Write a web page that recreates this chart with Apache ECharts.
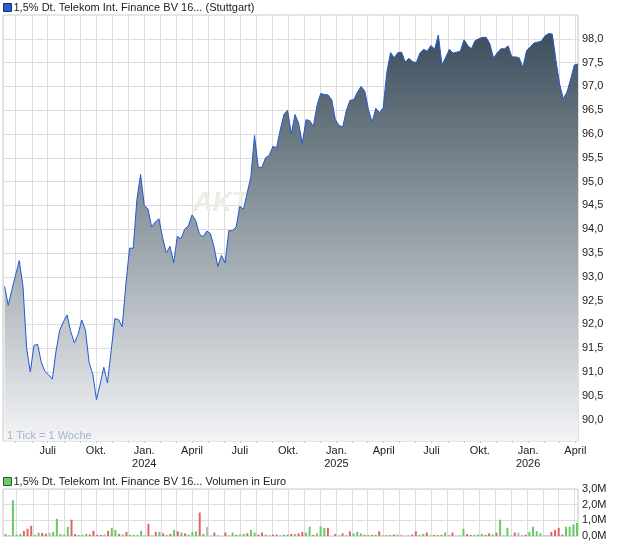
<!DOCTYPE html>
<html><head><meta charset="utf-8">
<script src="https://cdn.jsdelivr.net/npm/echarts@6/dist/echarts.min.js"></script>
<style>html,body{margin:0;padding:0;background:#fff}#c{width:620px;height:546px}</style>
</head><body><div id="c"></div>
<script>
// ---- data ----
const priceName = '1,5% Dt. Telekom Int. Finance BV 16... (Stuttgart)';
const volumeName = '1,5% Dt. Telekom Int. Finance BV 16... Volumen in Euro';
const firstWeek = [2023, 3, 10];   // first weekly tick (year, monthIndex, day)
const weekCount = 157;             // 1 Tick = 1 Woche
const axisStart = [2023, 3, 7];
const axisEnd = [2026, 3, 6];

const prices = [
  92.80, 92.40, 92.73, 93.04, 93.34, 92.80, 91.50, 91.00, 91.56, 91.58,
  91.20, 91.01, 90.94, 90.85, 91.44, 91.88, 92.05, 92.20, 91.85, 91.61,
  91.79, 92.09, 91.88, 91.20, 90.95, 90.42, 90.75, 91.10, 90.77, 91.45,
  92.12, 92.10, 91.95, 92.85, 93.60, 93.60, 94.62, 95.15, 94.50, 94.43,
  94.05, 94.15, 94.22, 93.82, 93.50, 93.64, 93.30, 93.85, 93.80, 94.00,
  94.07, 94.30, 94.18, 93.90, 93.84, 93.96, 93.91, 93.62, 93.22, 93.45,
  93.29, 93.97, 93.97, 94.05, 94.48, 94.42, 94.76, 95.10, 95.97, 95.30,
  95.30, 95.50, 95.55, 95.74, 95.71, 96.09, 96.41, 96.50, 96.00, 96.41,
  96.23, 95.80, 96.30, 96.28, 96.16, 96.60, 96.85, 96.83, 96.82, 96.72,
  96.30, 96.18, 96.15, 96.50, 96.71, 96.72, 96.88, 97.00, 96.90, 96.51,
  96.25, 96.54, 96.45, 96.55, 97.30, 97.71, 97.60, 97.71, 97.72, 97.51,
  97.59, 97.52, 97.50, 97.70, 97.78, 97.74, 97.86, 97.78, 98.08, 97.45,
  97.61, 97.78, 97.70, 97.72, 97.74, 97.98, 97.86, 97.79, 97.96, 98.00,
  98.03, 98.03, 97.90, 97.60, 97.70, 97.79, 97.79, 97.85, 97.62, 97.62,
  97.60, 97.40, 97.75, 97.83, 97.91, 97.93, 97.95, 98.06, 98.11, 98.10,
  97.55, 97.05, 96.74, 96.88, 97.15, 97.45, 97.47
];

// weekly volume in million euro
const volumesM = [
  0.13, 0.03, 2.28, 0.09, 0.13, 0.33, 0.46, 0.65, 0.07, 0.20,
  0.20, 0.15, 0.20, 0.26, 1.09, 0.13, 0.09, 0.59, 1.04, 0.13,
  0.07, 0.07, 0.13, 0.09, 0.33, 0.07, 0.07, 0.09, 0.33, 0.52,
  0.39, 0.13, 0.09, 0.26, 0.07, 0.07, 0.07, 0.33, 0.04, 0.78,
  0.04, 0.26, 0.26, 0.17, 0.07, 0.13, 0.39, 0.30, 0.22, 0.17,
  0.09, 0.26, 0.30, 1.50, 0.13, 0.57, 0.02, 0.22, 0.04, 0.00,
  0.22, 0.04, 0.22, 0.07, 0.09, 0.13, 0.17, 0.39, 0.22, 0.09,
  0.22, 0.09, 0.04, 0.09, 0.09, 0.04, 0.09, 0.07, 0.13, 0.13,
  0.17, 0.26, 0.22, 0.59, 0.07, 0.17, 0.61, 0.52, 0.52, 0.00,
  0.13, 0.04, 0.17, 0.04, 0.30, 0.17, 0.26, 0.17, 0.07, 0.07,
  0.07, 0.09, 0.30, 0.04, 0.07, 0.07, 0.09, 0.09, 0.04, 0.02,
  0.04, 0.09, 0.30, 0.07, 0.13, 0.22, 0.04, 0.07, 0.07, 0.07,
  0.22, 0.04, 0.22, 0.02, 0.04, 0.46, 0.13, 0.07, 0.07, 0.09,
  0.13, 0.07, 0.17, 0.09, 0.22, 1.04, 0.04, 0.52, 0.04, 0.22,
  0.22, 0.04, 0.07, 0.26, 0.59, 0.30, 0.17, 0.04, 0.04, 0.26,
  0.39, 0.52, 0.09, 0.59, 0.59, 0.72, 0.83
];

// 1 = up week, -1 = down week, 0 = unchanged
const volumeTrend = [
   1,-1, 1, 1, 1,-1,-1,-1, 1, 1,
  -1,-1, 0, 1, 1, 1, 1, 1,-1,-1,
   1, 1, 1,-1,-1,-1,-1, 1,-1, 1,
   1,-1, 1,-1, 1, 1, 1, 1, 1,-1,
   1,-1, 1,-1, 1,-1, 1,-1, 1,-1,
   1, 1, 1,-1, 1, 0, 0,-1, 1, 1,
  -1, 1, 1,-1, 1, 1,-1, 1, 1,-1,
  -1, 1,-1,-1,-1, 1, 1,-1,-1, 1,
  -1,-1, 1, 1,-1, 1, 1, 1,-1, 1,
  -1, 1,-1, 1,-1, 1, 1, 1,-1, 1,
  -1, 1,-1, 1, 1, 1,-1, 1,-1,-1,
   1,-1,-1, 1, 1,-1, 1,-1, 1,-1,
   1,-1,-1, 1, 1, 1,-1,-1, 1, 1,
   1,-1,-1, 1,-1, 1, 1, 1, 1,-1,
   0, 1,-1, 1, 1, 1, 1, 1, 1,-1,
  -1,-1,-1, 1, 1, 1, 1
];

const priceTicks = [90.0, 90.5, 91.0, 91.5, 92.0, 92.5, 93.0, 93.5, 94.0, 94.5, 95.0, 95.5, 96.0, 96.5, 97.0, 97.5, 98.0];
const volumeTicksM = [0, 1, 2, 3];
const quarterLabels = {0: 'Jan.', 3: 'April', 6: 'Juli', 9: 'Okt.'};
const watermark = 'AKTIEN';
const tickNote = '1 Tick = 1 Woche';

// ---- build ----
const DAY = 86400000;
const dates = [];
for (let i = 0; i < weekCount; i++) {
  dates.push(new Date(firstWeek[0], firstWeek[1], firstWeek[2] + 7 * i).getTime());
}
const xMin = new Date(axisStart[0], axisStart[1], axisStart[2]).getTime();
const xMax = new Date(axisEnd[0], axisEnd[1], axisEnd[2]).getTime();
const trendColor = {'1': '#66cc66', '-1': '#e06666', '0': '#bbbbbb'};
const FONT = 'Liberation Sans, Arial, sans-serif';

function monthLabel(v) {
  const d = new Date(v);
  if (d.getDate() !== 1) return '';
  const m = d.getMonth();
  if (!(m in quarterLabels)) return '';
  return m === 0 ? quarterLabels[m] + '\n' + d.getFullYear() : quarterLabels[m];
}

const gridLine = {color: '#dddddd', width: 1};

const chart = echarts.init(document.getElementById('c'), null, {renderer: 'canvas'});
chart.setOption({
  animation: false,
  backgroundColor: '#ffffff',
  textStyle: {fontFamily: FONT},
  title: {
    text: tickNote, left: 7, top: 430, padding: 0,
    textStyle: {fontSize: 11, fontWeight: 'normal', color: '#a7b5c9', fontFamily: FONT}
  },
  graphic: [{
    type: 'text', left: 193, top: 190, z: 1, silent: true,
    style: {text: watermark, fontSize: 27, fontStyle: 'italic', fontWeight: 'bold', fill: '#eeeae6', fontFamily: FONT}
  }],
  legend: [
    {
      left: 3, top: 2, padding: 0, itemWidth: 8, itemHeight: 8, icon: 'rect', selectedMode: false,
      textStyle: {fontSize: 11, color: '#222', fontFamily: FONT, padding: [0, 0, 0, -3]},
      data: [{name: priceName, itemStyle: {color: '#2a5fd0', borderColor: '#1b2f63', borderWidth: 1}, lineStyle: {width: 0}}]
    },
    {
      left: 3, top: 476, padding: 0, itemWidth: 8, itemHeight: 8, icon: 'rect', selectedMode: false,
      textStyle: {fontSize: 11, color: '#222', fontFamily: FONT, padding: [0, 0, 0, -3]},
      data: [{name: volumeName, itemStyle: {color: '#66cc66', borderColor: '#2b5a2b', borderWidth: 1}}]
    }
  ],
  grid: [
    {left: 3, right: 42, top: 15, height: 426, show: true, borderColor: '#cccccc', borderWidth: 1, backgroundColor: '#ffffff'},
    {left: 3, right: 42, top: 489, height: 47, show: true, borderColor: '#cccccc', borderWidth: 1, backgroundColor: '#ffffff'}
  ],
  xAxis: [
    {
      type: 'time', gridIndex: 0, min: xMin, max: xMax,
      splitNumber: 36, minInterval: 28 * DAY, maxInterval: 31 * DAY,
      axisLine: {show: false},
      axisTick: {show: true, length: 2, lineStyle: {color: '#cccccc'}},
      splitLine: {show: true, lineStyle: gridLine},
      axisLabel: {
        formatter: monthLabel, color: '#222', fontSize: 11, lineHeight: 13, margin: 3,
        showMinLabel: false, showMaxLabel: false, hideOverlap: false, fontFamily: FONT
      }
    },
    {
      type: 'time', gridIndex: 1, min: xMin, max: xMax,
      splitNumber: 36, minInterval: 28 * DAY, maxInterval: 31 * DAY,
      axisLine: {show: false}, axisTick: {show: false}, axisLabel: {show: false},
      splitLine: {show: true, lineStyle: gridLine}
    }
  ],
  yAxis: [
    {
      type: 'value', gridIndex: 0, position: 'right', min: 89.55, max: 98.5,
      axisLine: {show: false},
      axisTick: {show: false, customValues: priceTicks},
      splitLine: {show: true, lineStyle: gridLine},
      axisLabel: {
        customValues: priceTicks, color: '#222', fontSize: 11, margin: 4, fontFamily: FONT,
        formatter: v => v.toFixed(1).replace('.', ',')
      }
    },
    {
      type: 'value', gridIndex: 1, position: 'right', min: 0, max: 3e6, interval: 1e6,
      axisLine: {show: false}, axisTick: {show: false},
      splitLine: {show: true, lineStyle: gridLine},
      axisLabel: {
        color: '#222', fontSize: 11, margin: 4, fontFamily: FONT,
        formatter: v => (v / 1e6).toFixed(1).replace('.', ',') + 'M'
      }
    }
  ],
  series: [
    {
      name: priceName, type: 'line', xAxisIndex: 0, yAxisIndex: 0, z: 2,
      symbol: 'none', showSymbol: false,
      data: dates.map((d, i) => [d, prices[i]]),
      lineStyle: {color: '#2358d0', width: 1},
      itemStyle: {color: '#2a5fd0'},
      areaStyle: {
        origin: 'start', opacity: 1,
        color: new echarts.graphic.LinearGradient(0, 0, 0, 1, [
          {offset: 0, color: '#3d4f5c'},
          {offset: 1, color: '#f3f4f6'}
        ])
      }
    },
    {
      name: volumeName, type: 'bar', xAxisIndex: 1, yAxisIndex: 1, barWidth: 2,
      itemStyle: {color: '#66cc66'},
      data: dates.map((d, i) => ({
        value: [d, volumesM[i] * 1e6],
        itemStyle: {color: trendColor[String(volumeTrend[i])]}
      }))
    }
  ]
});
</script>
</body></html>
